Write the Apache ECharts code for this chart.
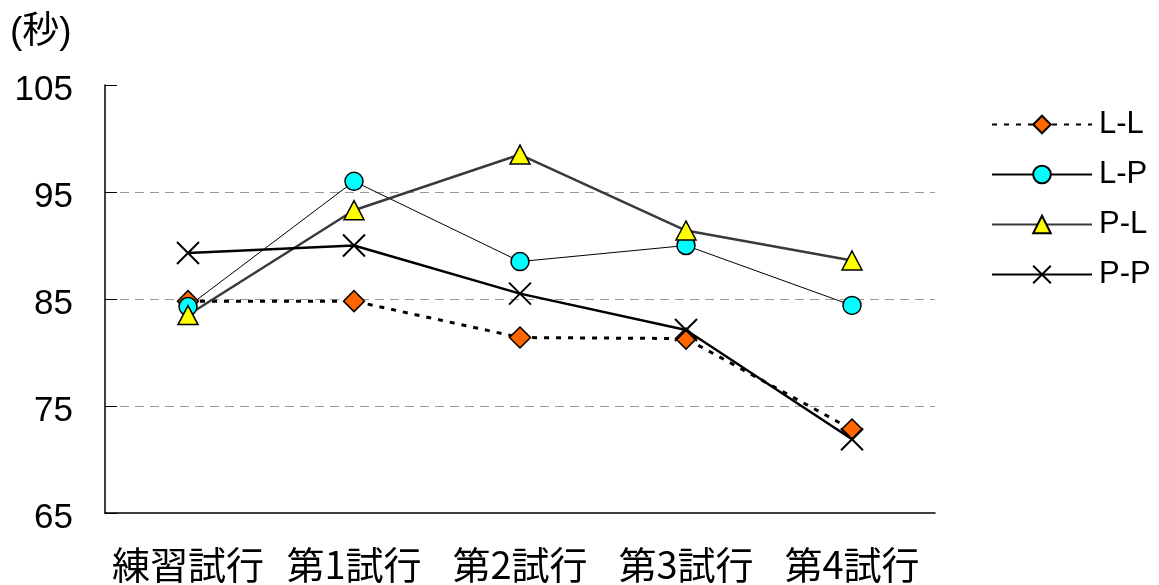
<!DOCTYPE html>
<html>
<head>
<meta charset="utf-8">
<script src="https://cdn.jsdelivr.net/npm/echarts@6/dist/echarts.min.js"></script>
<style>
html, body { margin: 0; padding: 0; background: #fff; }
#chart { width: 1159px; height: 585px; }
</style>
</head>
<body>
<div id="chart"></div>
<script>
// Trial names and mean times (seconds) per condition
const categories = ['練習試行', '第1試行', '第2試行', '第3試行', '第4試行'];
const seriesNames = ['L-L', 'L-P', 'P-L', 'P-P'];
const valuesLL = [84.8, 84.8, 81.4, 81.3, 72.8];
const valuesLP = [84.3, 96.0, 88.5, 90.0, 84.4];
const valuesPL = [83.5, 93.3, 98.5, 91.4, 88.6];
const valuesPP = [89.3, 90.0, 85.5, 82.1, 71.9];
const yMin = 65, yMax = 105, yStep = 10;
const yUnit = '(秒)';

const crossPath = 'path://M0,0L10,10M10,0L0,10';
const latinFont = '"Liberation Sans", Arial, sans-serif';
const cjkFont = '"Noto Sans CJK JP", "Noto Sans CJK SC", sans-serif';

const chart = echarts.init(document.getElementById('chart'), null, { renderer: 'canvas' });

chart.setOption({
  animation: false,
  backgroundColor: '#fff',
  grid: { left: 105, right: 224, top: 85, bottom: 72 },
  graphic: [{
    type: 'text', left: 10, top: 14,
    style: { text: yUnit, font: '37px ' + latinFont + ', ' + cjkFont, fill: '#000' }
  }],
  legend: {
    orient: 'vertical',
    left: 986, top: 104,
    itemWidth: 100, itemHeight: 22,
    itemGap: 19,
    data: seriesNames,
    textStyle: { fontSize: 31, fontFamily: latinFont, color: '#000', padding: [0, 0, 0, 2] }
  },
  xAxis: {
    type: 'category',
    data: categories,
    boundaryGap: true,
    axisLine: { lineStyle: { color: '#000', width: 1.5 } },
    axisTick: { inside: true, length: 12, lineStyle: { color: '#000', width: 1 } },
    axisLabel: { interval: 0, color: '#000', fontSize: 38, fontFamily: cjkFont, margin: 33 }
  },
  yAxis: {
    type: 'value',
    min: yMin, max: yMax, interval: yStep,
    axisLine: { show: true, lineStyle: { color: '#000', width: 1.5 } },
    axisTick: { show: true, inside: true, length: 12, lineStyle: { color: '#000', width: 1 } },
    axisLabel: {
      margin: 32,
      formatter: '{v|{value}}',
      rich: {
        v: { color: '#000', fontSize: 35, fontFamily: latinFont, padding: [10, 0, 0, 0] }
      }
    },
    splitLine: {
      show: true,
      lineStyle: {
        type: [9, 6],
        width: 1,
        color: ['rgba(0,0,0,0)', '#999', '#999', '#999', 'rgba(0,0,0,0)']
      }
    }
  },
  series: [
    {
      name: 'L-L', type: 'line', data: valuesLL,
      symbol: 'diamond', symbolSize: 21,
      lineStyle: { color: '#000', width: 3, type: [5, 7] },
      itemStyle: { color: '#FF6600', borderColor: '#000', borderWidth: 1.5 }
    },
    {
      name: 'L-P', type: 'line', data: valuesLP,
      symbol: 'circle', symbolSize: 18,
      lineStyle: { color: '#000', width: 1 },
      itemStyle: { color: '#00FFFF', borderColor: '#000', borderWidth: 1.5 }
    },
    {
      name: 'P-L', type: 'line', data: valuesPL,
      symbol: 'triangle', symbolSize: [20, 19],
      lineStyle: { color: '#3a3a3a', width: 2.5 },
      itemStyle: { color: '#FFFF00', borderColor: '#000', borderWidth: 1.5 }
    },
    {
      name: 'P-P', type: 'line', data: valuesPP,
      symbol: crossPath, symbolSize: 22,
      lineStyle: { color: '#000', width: 2.5 },
      itemStyle: { color: 'rgba(0,0,0,0)', borderColor: '#000', borderWidth: 2 }
    }
  ]
});
</script>
</body>
</html>
